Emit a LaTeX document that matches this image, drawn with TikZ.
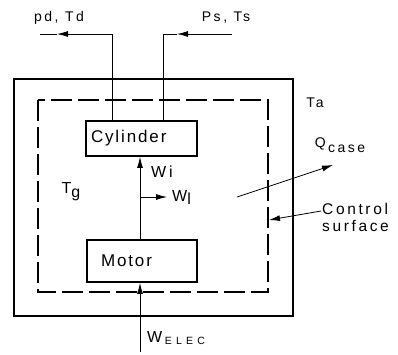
\documentclass[tikz,border=0pt]{standalone}
\usepackage{fontspec}
\setmainfont{Liberation Sans}[LetterSpace=18]
\usetikzlibrary{positioning,arrows.meta,calc}

\begin{document}
\begin{tikzpicture}[x=1pt,y=-1pt,
    box/.style={draw,line width=1.7pt,align=left,inner ysep=0pt,font=\fontsize{17}{19}\selectfont\addfontfeature{LetterSpace=11}},
    flow/.style={line width=0.8pt},
    tip/.style={-{Latex[length=11pt,width=6pt]}},
    lbl/.style={inner sep=1pt,font=\fontsize{14}{16}\selectfont},
    big/.style={inner sep=1pt,font=\fontsize{16}{18}\selectfont}]
    \useasboundingbox (0,0) rectangle (398,354);
    % casing and control surface (pixel coordinates, y down)
    \draw[line width=1.9pt] (14,79) rectangle (293,316);
    \draw[line width=1.9pt,dash pattern=on 21pt off 6pt] (38,100) rectangle (268,292);
    \node[box,minimum height=35pt,inner xsep=5pt,text width=101pt] (cyl) at (141.5,138.5) {Cylinder};
    \node[box,minimum height=42pt,inner xsep=14pt,text width=82pt] (mot) at (142,261) {Motor};
    % shaft work
    \draw[flow,tip] (mot.north -| 140,0) -- (cyl.south -| 140,0);
    \node[big] (wi) at (162,172) {Wi};
    \coordinate (wl) at (167,197);
    \draw[flow,tip] (wl -| 140,0) -- (wl);
    \node[big,right=4pt of wl] (wllab) {W\raisebox{-3pt}{l}};
    % discharge and suction
    \coordinate (pdtip) at (57,34);
    \coordinate (pdend) at (40,34);
    \draw[flow,tip] (cyl.north -| 112,0) |- (pdtip);
    \draw[flow] (pdtip) -- (pdend);
    \node[lbl] (pd) at (59,18) {pd, Td};
    \coordinate (psend) at (232,34);
    \coordinate (pstip) at (177,34);
    \draw[flow,tip] (psend) -- (pstip);
    \draw[flow] (pstip) -| (cyl.north -| 163,0);
    \node[lbl] (ps) at (226,18) {Ps, Ts};
    % heat and electric input
    \node[lbl] (ta) at (315,103) {Ta};
    \node[big] (tg) at (71,192) {T\raisebox{-4pt}{g}};
    \coordinate (qs) at (237,197);
    \coordinate (qe) at (333,165);
    \draw[flow,tip] (qs) -- (qe);
    \node[lbl] (qcase) at (340,145) {Q\,\raisebox{-5pt}{case}};
    \node[lbl,align=left,anchor=west,font=\fontsize{15.5}{17}\selectfont\addfontfeature{LetterSpace=17}] (cs) at (321,217) {Control\\surface};
    \coordinate (csend) at (269,220);
    \draw[flow,tip] (cs.west |- 0,211) -- (csend);
    \coordinate (welec) at (140,352);
    \draw[flow,tip] (welec) -- (mot.south -| 140,0);
    \node[big,anchor=west] (we) at (146,338) {W\,\raisebox{-2pt}{\fontsize{10.5}{12}\selectfont\addfontfeature{LetterSpace=40}ELEC}};
\end{tikzpicture}
\end{document}
